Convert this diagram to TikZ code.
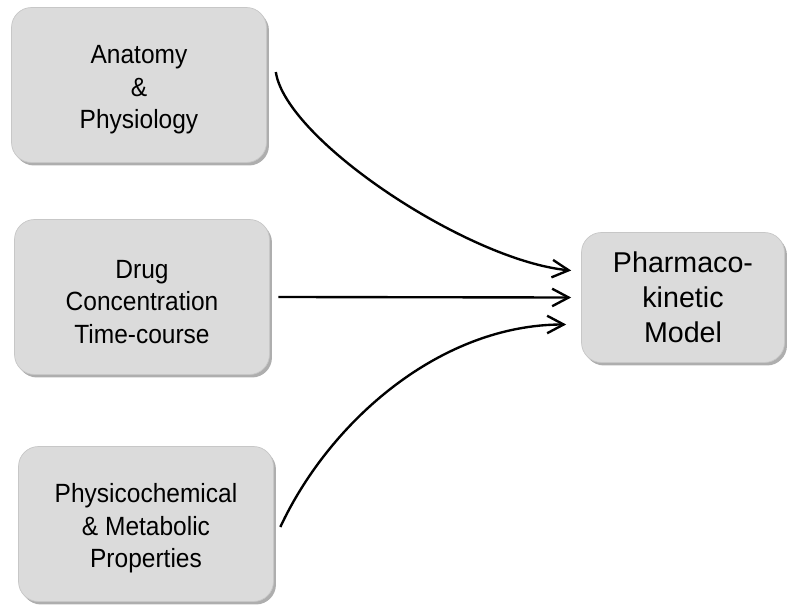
\documentclass[tikz,border=0pt]{standalone}
\usepackage{fontspec}
\setmainfont{Liberation Sans}
\newfontfamily\narrowsans[FakeStretch=0.93]{Liberation Sans}
\usepackage{tikz}
\usetikzlibrary{arrows.meta}
\usetikzlibrary{positioning,shadows}
\colorlet{boxfill}{black!14}
\colorlet{boxline}{black!22}

\begin{document}
\begin{tikzpicture}[
x=0.02cm, y=-0.02cm,
BoxBase/.style={draw=boxline,fill=boxfill,rounded corners=0.4cm,align=center,
  drop shadow={shadow xshift=0.05cm,shadow yshift=-0.06cm,fill=black!45,opacity=0.7}},
InBox/.style={BoxBase,minimum width=5.1cm,minimum height=3.1cm,
  text height=1.86cm,font=\narrowsans\fontsize{15}{18.6}\selectfont},
OutBox/.style={BoxBase,minimum width=4.06cm,minimum height=2.6cm,
  font=\fontsize{16.3}{20}\selectfont},
Links/.style={-{Straight Barb[length=3.3mm,width=3.5mm]},line width=1.35pt}
]
%\draw[help lines,step=50] (0,0) grid (788,611);
\useasboundingbox (0,0) rectangle (788,611);

% the three inputs
\node[InBox] (anatomy) at (139,85) {Anatomy\\\&\\Physiology};
\node[InBox] (drugconc) at (142,297) {Drug\\Concentration\\Time-course};
\node[InBox] (physchem) at (146,524) {Physicochemical\\\& Metabolic\\Properties};

% the model
\node[OutBox] (pkmodel) at (683,297.5) {Pharmaco-\\kinetic\\Model};

\draw[Links] ([xshift=0.18cm,yshift=0.26cm]anatomy.east)
  .. controls +(0.2cm,-1.36cm) and +(-2.06cm,0.2cm) ..
  ([xshift=-0.2cm,yshift=0.54cm]pkmodel.west);

\draw[Links] ([xshift=0.17cm]drugconc.east) -- ([xshift=-0.2cm]pkmodel.west);

\draw[Links] ([xshift=0.13cm,yshift=-0.06cm]physchem.east)
  .. controls +(1cm,2.14cm) and +(-2.5cm,0cm) ..
  ([xshift=-0.3cm,yshift=-0.54cm]pkmodel.west);

\end{tikzpicture}
\end{document}
